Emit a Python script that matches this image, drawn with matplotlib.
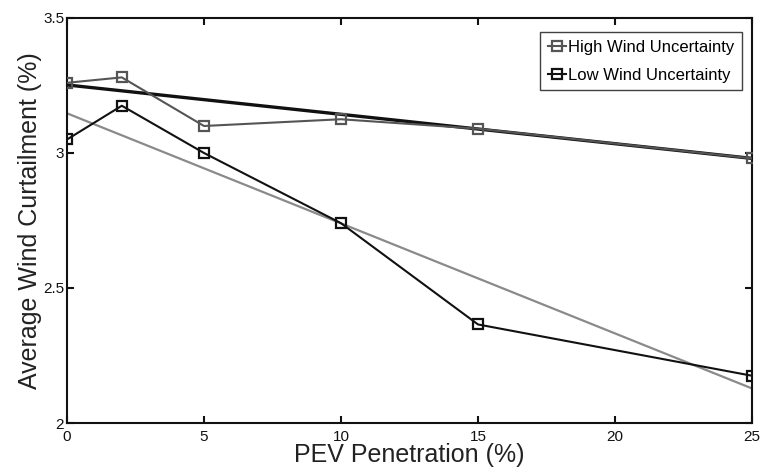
import matplotlib
matplotlib.use('Agg')
import matplotlib.pyplot as plt

# PEV penetration levels (%)
pev = [0, 2, 5, 10, 15, 25]
high_wind = [3.26, 3.28, 3.10, 3.125, 3.09, 2.98]
low_wind = [3.05, 3.175, 3.00, 2.74, 2.365, 2.175]

# fitted trend lines (end points)
trend_x = [0, 25]
trend_high = [3.252, 2.98]
trend_low = [3.147, 2.128]

plt.rcParams['font.family'] = ['Liberation Sans', 'DejaVu Sans']

fig = plt.figure(figsize=(7.63, 4.72), dpi=100)
ax = fig.add_axes([0.0878, 0.1038, 0.8978, 0.8581])

ax.plot(trend_x, trend_low, color='#8a8a8a', lw=1.6, zorder=2)
ax.plot(trend_x, trend_high, color='#111111', lw=2.4, zorder=2)
ax.plot(pev, high_wind, color='#555555', lw=1.5, marker='s', ms=7,
        mfc='none', mec='#555555', mew=1.6, label='High Wind Uncertainty', zorder=3)
ax.plot(pev, low_wind, color='#111111', lw=1.5, marker='s', ms=7,
        mfc='none', mec='#111111', mew=1.6, label='Low Wind Uncertainty', zorder=3)

ax.set_xlim(0, 25)
ax.set_ylim(2, 3.5)
ax.set_xticks([0, 5, 10, 15, 20, 25])
ax.set_yticks([2, 2.5, 3, 3.5])
ax.set_yticklabels(['2', '2.5', '3', '3.5'])
ax.tick_params(direction='in', length=5, width=1.5, top=True, right=True,
               labelsize=11, colors='#111111')
ax.tick_params(axis='x', pad=5)
ax.tick_params(axis='y', pad=2)
for s in ax.spines.values():
    s.set_linewidth(1.5)
    s.set_color('#111111')

ax.set_xlabel('PEV Penetration (%)', fontsize=18, color='#222222', labelpad=-1)
ax.set_ylabel('Average Wind Curtailment (%)', fontsize=18, color='#222222', labelpad=1)

leg = ax.legend(loc='upper right', fontsize=12, frameon=True, fancybox=False,
                handlelength=1.1, handletextpad=0.1, borderpad=0.45,
                labelspacing=0.8, bbox_to_anchor=(0.985, 0.965), borderaxespad=0.0)
leg.get_frame().set_edgecolor('#111111')
leg.get_frame().set_linewidth(1.0)

fig.savefig('out.png', dpi=100)
